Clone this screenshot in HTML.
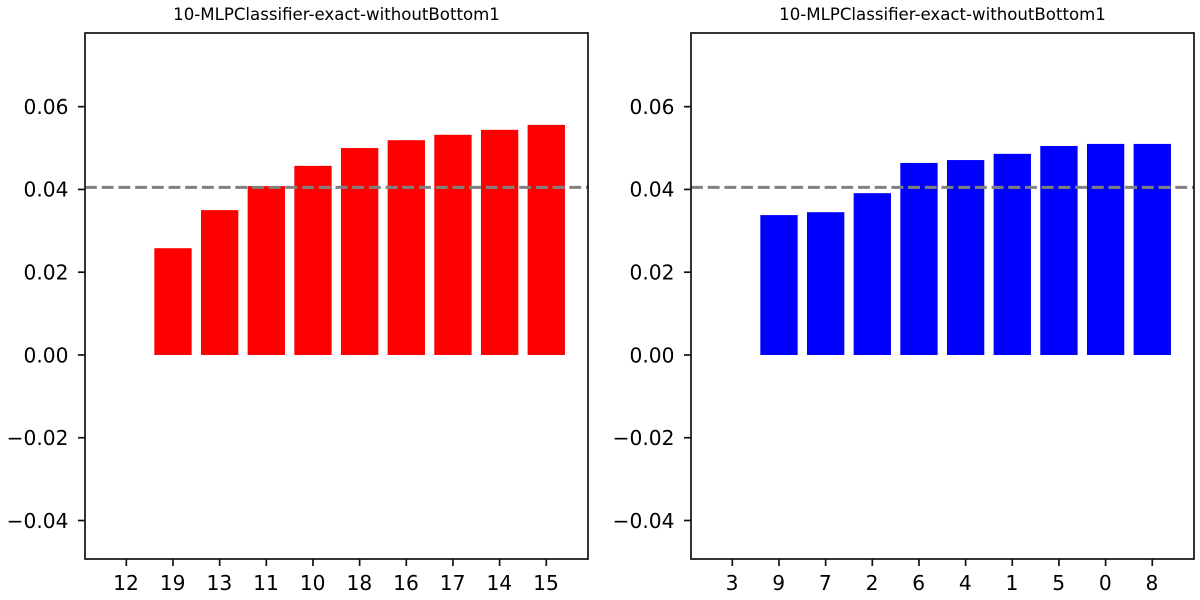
<!DOCTYPE html>
<html>
<head>
<meta charset="utf-8">
<title>10-MLPClassifier-exact-withoutBottom1</title>
<style>
html,body{margin:0;padding:0;background:#fff;width:1200px;height:600px;overflow:hidden}
svg{display:block}
text{font-family:"DejaVu Sans",sans-serif;fill:#000}
</style>
</head>
<body>
<svg id="chart" xmlns="http://www.w3.org/2000/svg" width="1200" height="600" viewBox="0 0 1200 600"></svg>
<script>
const chartTitle = "10-MLPClassifier-exact-withoutBottom1";
const leftCategories = ["12","19","13","11","10","18","16","17","14","15"];
const leftValues = [0,0.0258,0.0350,0.0408,0.0457,0.0500,0.0519,0.0532,0.0544,0.0556];
const rightCategories = ["3","9","7","2","6","4","1","5","0","8"];
const rightValues = [0,0.0338,0.0345,0.0391,0.0464,0.0471,0.0486,0.0505,0.0510,0.0510];
const yTicks = [-0.04,-0.02,0,0.02,0.04,0.06];
const leftMean = 0.0405;
const rightMean = 0.0405;

const NS = "http://www.w3.org/2000/svg";
const svg = document.getElementById("chart");
const plotTop = 33, plotBottom = 559, plotWidth = 503;
const yMin = -0.0493, yMax = 0.0778;

function yScale(v){
  return plotBottom - (v - yMin) / (yMax - yMin) * (plotBottom - plotTop);
}
function make(tag, attrs, parent){
  const el = document.createElementNS(NS, tag);
  for (const k in attrs) el.setAttribute(k, attrs[k]);
  parent.appendChild(el);
  return el;
}
function formatTick(v){
  const s = Math.abs(v).toFixed(2);
  return v < 0 ? "\u2212" + s : s;
}
function drawPanel(side, plotLeft, categories, values, color, mean){
  const count = categories.length;
  const xMin = -0.89, xMax = count - 1 + 0.89;
  const xScale = i => plotLeft - 0.2 + (i - xMin) / (xMax - xMin) * plotWidth;
  const unit = plotWidth / (xMax - xMin);

  const g = make("g", {}, svg);
  
  

  values.forEach((v, i) => {
    const yTop = yScale(Math.max(v, 0));
    const yBase = yScale(Math.min(v, 0));
    const bar = make("rect", {
      x: xScale(i) - 0.4 * unit,
      y: yTop,
      width: 0.8 * unit,
      height: yBase - yTop,
      fill: color
    }, g);
    
    
  });

  const meanLine = make("line", {
    x1: plotLeft, x2: plotLeft + plotWidth,
    y1: yScale(mean), y2: yScale(mean),
    stroke: "#808080", "stroke-width": 3.1, "stroke-dasharray": "11.9 4.8"
  }, g);
  
  

  const frame = make("rect", {
    x: plotLeft, y: plotTop, width: plotWidth, height: plotBottom - plotTop,
    fill: "none", stroke: "#111", "stroke-width": 1.7
  }, g);
  
  

  yTicks.forEach(t => {
    const y = yScale(t);
    const mark = make("line", {
      x1: plotLeft - 7, x2: plotLeft, y1: y, y2: y,
      stroke: "#111", "stroke-width": 1.7
    }, g);
    
    
    const label = make("text", {
      x: plotLeft - 16.5, y: y + 7.3,
      "text-anchor": "end", "font-size": 20.2
    }, g);
    label.textContent = formatTick(t);
    
    
  });

  categories.forEach((c, i) => {
    const x = xScale(i);
    const mark = make("line", {
      x1: x, x2: x, y1: plotBottom, y2: plotBottom + 7,
      stroke: "#111", "stroke-width": 1.7
    }, g);
    
    
    const label = make("text", {
      x: x - 0.3, y: plotBottom + 31,
      "text-anchor": "middle", "font-size": 20.2
    }, g);
    label.textContent = c;
    
    
  });

  const title = make("text", {
    x: plotLeft + plotWidth / 2, y: 20,
    "text-anchor": "middle", "font-size": 16.6
  }, g);
  title.textContent = chartTitle;
  
  
}
drawPanel("left", 85, leftCategories, leftValues, "#ff0000", leftMean);
drawPanel("right", 691, rightCategories, rightValues, "#0000ff", rightMean);
</script>
</body>
</html>
